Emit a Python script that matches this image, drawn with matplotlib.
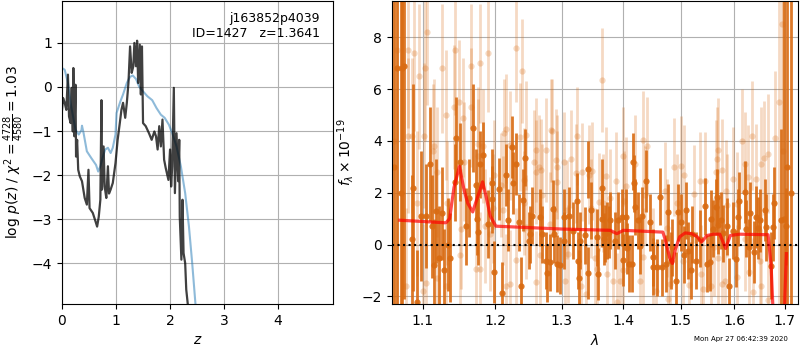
import numpy as np
import matplotlib
matplotlib.use('Agg')
import matplotlib.pyplot as plt
from matplotlib.ticker import NullLocator, FixedLocator, FixedFormatter

# p(z) panel
z_chi = [0.0, 0.05, 0.11, 0.17, 0.25, 0.31, 0.36, 0.37, 0.40, 0.46, 0.54, 0.63, 0.67, 0.71,
         0.75, 0.80, 0.85, 0.90, 0.94, 0.99, 1.01, 1.08, 1.13, 1.20, 1.26, 1.31, 1.37, 1.43,
         1.50, 1.58, 1.67, 1.75, 1.83, 1.90, 1.98, 2.04, 2.12, 2.20, 2.28, 2.35, 2.41, 2.47, 2.60]
logp_chi = [0.43, 0.39, 0.09, -0.44, -0.97, -1.08, -0.98, -0.88, -1.05, -1.46, -1.61, -1.77, -1.92,
            -1.80, -1.61, -1.42, -1.38, -1.50, -1.38, -1.08, -0.59, -0.33, -0.17, 0.09, 0.23, 0.26,
            0.18, 0.0, -0.10, -0.21, -0.30, -0.48, -0.63, -0.70, -0.86, -1.05, -1.35, -1.80, -2.41,
            -3.17, -4.0, -4.92, -6.0]

z_pz = [0.0, 0.02, 0.05, 0.08, 0.11, 0.13, 0.16, 0.18, 0.20, 0.21, 0.23, 0.25, 0.26, 0.28, 0.30,
        0.33, 0.37, 0.42, 0.46, 0.49, 0.51, 0.57, 0.62, 0.65, 0.68, 0.71, 0.73, 0.74, 0.77, 0.79,
        0.82, 0.85, 0.87, 0.90, 0.94, 0.99, 1.03, 1.07, 1.10, 1.13, 1.17, 1.20, 1.23, 1.26, 1.29,
        1.32, 1.34, 1.37, 1.39, 1.41, 1.44, 1.46, 1.48, 1.50, 1.55, 1.61, 1.66, 1.71, 1.74, 1.77,
        1.80, 1.83, 1.86, 1.89, 1.92, 1.97, 2.00, 2.02, 2.04, 2.07, 2.09, 2.12, 2.15, 2.17, 2.18,
        2.21, 2.23, 2.25, 2.28, 2.30, 2.33, 2.40]
logp_pz = [-0.52, -0.25, -0.36, -0.52, 0.28, -0.67, -0.82, -0.02, -1.01, 0.43, -1.12, 0.05, -1.58,
           -1.20, -1.88, -2.03, -2.14, -2.52, -2.67, -1.88, -2.75, -2.86, -3.05, -3.17, -2.95, -2.56,
           -0.30, -2.33, -1.35, -2.26, -2.52, -1.80, -2.42, -2.33, -2.18, -1.73, -1.20, -0.82, -0.52,
           -0.36, -0.70, -0.36, 0.09, 0.92, 0.32, 0.47, 1.00, 0.47, 1.05, 0.09, 0.96, -0.17, 0.92,
           -0.82, -0.89, -1.05, -1.20, -1.01, -1.12, -1.42, -0.89, -1.35, -0.74, -1.65, -1.84, -2.11,
           -1.42, -2.26, -1.80, -0.02, -2.41, -1.05, -2.14, -1.20, -2.95, -3.92, -2.56, -3.77, -4.0,
           -4.6, -4.95, -6.0]

# spectrum panel, dark points
wave_a = [1.062, 1.066, 1.071, 1.073, 1.076, 1.086, 1.087, 1.093, 1.098, 1.104,
          1.109, 1.112, 1.115, 1.117, 1.121, 1.126, 1.128, 1.134, 1.136, 1.143,
          1.145, 1.150, 1.158, 1.163, 1.168, 1.172, 1.174, 1.176, 1.178, 1.183,
          1.190, 1.195, 1.196, 1.199, 1.206, 1.210, 1.215, 1.219, 1.224, 1.226,
          1.231, 1.235, 1.238, 1.241, 1.244, 1.250, 1.251, 1.254, 1.267, 1.269,
          1.276, 1.277, 1.282, 1.287, 1.288, 1.293, 1.298, 1.303, 1.304, 1.312,
          1.318, 1.324, 1.326, 1.327, 1.329, 1.337, 1.341, 1.342, 1.346, 1.356,
          1.358, 1.364, 1.365, 1.367, 1.369, 1.372, 1.376, 1.378, 1.386, 1.391,
          1.397, 1.400, 1.404, 1.406, 1.410, 1.414, 1.416, 1.418, 1.419, 1.425,
          1.428, 1.432, 1.439, 1.445, 1.450, 1.451, 1.457, 1.463, 1.466, 1.474,
          1.477, 1.483, 1.484, 1.492, 1.495, 1.501, 1.505, 1.510, 1.513, 1.519,
          1.521, 1.528, 1.535, 1.544, 1.548, 1.553, 1.556, 1.559, 1.565, 1.567,
          1.568, 1.575, 1.579, 1.585, 1.589, 1.597, 1.602, 1.606, 1.608, 1.620,
          1.623, 1.629, 1.630, 1.639, 1.642, 1.645, 1.649, 1.659, 1.662, 1.672,
          1.675, 1.678, 1.692, 1.699, 1.703, 1.705, 1.712]
flux_a = [3.0, 6.8, 2.0, 6.8, 6.9, 0.2, 2.2, -2.2, 1.1, 1.1,
          3.1, 0.7, -0.8, 1.3, -0.5, 1.2, -1.0, 0.0, -0.5, 2.4,
          4.1, 3.2, 0.7, 1.8, 4.5, 2.3, 1.0, 0.5, 3.1, 3.45,
          0.8, 2.37, 1.75, -1.07, 2.15, -1.87, 2.7, 0.95, 3.77, 2.37,
          3.1, 0.86, -1.59, 1.73, 3.35, 0.15, 0.4, 1.12, 1.06, 0.4,
          -0.62, -1.1, -0.68, 1.38, 0.4, -0.75, -0.8, 0.15, 1.06, 1.12,
          0.54, 1.68, -0.62, -1.3, 0.15, 0.35, -1.1, 2.9, 1.32, 0.28,
          -1.14, 2.19, 1.0, 0.2, 0.41, 0.54, 0.5, 0.93, 0.15, 0.93,
          1.06, -0.6, 1.06, -0.15, -0.75, -0.75, 3.19, 2.37, 1.45, 0.93,
          -0.05, 1.12, 2.45, 0.86, -0.49, -0.85, -0.88, 1.85, -0.88, -0.75,
          1.25, -0.62, -0.1, -1.39, 1.25, 0.86, -0.4, 1.32, -0.23, -1.0,
          0.4, -0.62, 0.22, 1.47, -0.75, -0.68, 1.0, 0.61, 1.45, 1.83,
          0.75, 0.93, 0.44, 0.7, -1.61, 0.54, -0.55, 1.06, 1.7, 2.03,
          0.61, -0.1, 1.2, -0.3, 1.06, 0.65, 0.93, 1.32, 0.67, -0.81,
          0.67, 1.6, 0.95, 1.0, 0.7, 3.0, 2.0]
err_a = [12, 14, 12, 10, 9, 2.5, 4.0, 2.0, 2.5, 2.0,
         2.2, 2.0, 1.8, 2.0, 2.0, 1.8, 1.6, 1.8, 1.7, 1.5,
         1.6, 1.5, 1.5, 1.5, 1.7, 1.4, 1.4, 1.3, 1.3, 1.3,
         1.3, 1.3, 1.3, 1.2, 1.2, 1.2, 1.2, 1.2, 1.2, 1.2,
         1.2, 1.1, 1.1, 1.2, 1.1, 1.1, 1.1, 1.1, 1.1, 1.1,
         1.1, 1.1, 1.1, 1.1, 1.1, 1.1, 1.1, 1.1, 1.1, 1.1,
         1.1, 1.1, 1.1, 1.1, 1.1, 1.1, 1.0, 1.1, 1.1, 1.1,
         1.0, 1.1, 1.1, 1.0, 1.1, 1.1, 1.0, 1.1, 1.1, 1.1,
         1.1, 1.0, 1.1, 1.0, 1.1, 1.1, 1.1, 1.1, 1.1, 1.1,
         1.1, 1.1, 1.2, 1.1, 1.1, 1.1, 1.1, 1.1, 1.1, 1.1,
         1.1, 1.1, 1.1, 1.1, 1.1, 1.1, 1.1, 1.1, 1.1, 1.1,
         1.1, 1.1, 1.1, 1.1, 1.1, 1.1, 1.1, 1.1, 1.1, 1.1,
         1.1, 1.1, 1.1, 1.1, 1.1, 1.1, 1.1, 1.1, 1.1, 1.2,
         1.1, 1.1, 1.2, 1.2, 1.2, 1.2, 1.2, 1.2, 1.3, 1.3,
         1.3, 1.4, 3.5, 15, 1.5, 15, 15]

# spectrum panel, faint points
wave_b = [1.063, 1.067, 1.078, 1.080, 1.081, 1.086, 1.089, 1.093, 1.095, 1.100, 1.102, 1.103, 1.104,
          1.105, 1.114, 1.115, 1.119, 1.119, 1.126, 1.131, 1.131, 1.133, 1.142, 1.143, 1.149, 1.150,
          1.152, 1.154, 1.156, 1.166, 1.166, 1.172, 1.176, 1.179, 1.182, 1.190, 1.197, 1.198, 1.208,
          1.213, 1.216, 1.230, 1.231, 1.240, 1.242, 1.243, 1.257, 1.265, 1.267, 1.270, 1.285, 1.292,
          1.293, 1.304, 1.305, 1.309, 1.314, 1.323, 1.324, 1.331, 1.332, 1.339, 1.343, 1.346, 1.348,
          1.353, 1.364, 1.366, 1.371, 1.377, 1.383, 1.388, 1.399, 1.399, 1.405, 1.420, 1.428, 1.436,
          1.441, 1.456, 1.472, 1.476, 1.478, 1.488, 1.494, 1.500, 1.506, 1.515, 1.524, 1.535, 1.537,
          1.544, 1.555, 1.561, 1.564, 1.566, 1.569, 1.582, 1.583, 1.614, 1.620, 1.620, 1.626, 1.629,
          1.635, 1.636, 1.642, 1.652, 1.652, 1.658, 1.665, 1.665, 1.680, 1.688, 1.695, 1.697,
          1.284, 1.434, 1.568, 1.577, 1.597, 1.585, 1.604, 1.401, 1.359, 1.291,
          1.268, 1.261, 1.245, 1.236, 1.221, 1.261, 1.276, 1.216, 1.175, 1.212,
          1.245, 1.282, 1.310, 1.356, 1.372, 1.394, 1.434, 1.450, 1.480, 1.504,
          1.541, 1.577, 1.604, 1.649, 1.178, 1.221, 1.261, 1.389, 1.185, 1.192]
flux_b = [4.0, 7.5, -1.6, 7.5, 4.2, 4.2, 7.4, 1.6, 6.5, -1.8, 4.2, 6.8, -1.5,
          8.2, 3.6, 3.8, 2.8, -1.3, 6.8, 5.0, -1.6, 1.6, 5.3, 7.5, 5.5, -0.4,
          0.6, 4.9, 3.2, 6.9, 5.3, -0.95, 3.4, 7.0, 3.8, 7.4, 1.4, 2.7, 2.3,
          4.3, -1.6, 7.6, -0.6, 6.7, 1.6, 2.5, 3.2, 3.0, -0.4, 1.9, 4.4, 3.0,
          2.4, 3.2, -1.4, 1.35, 3.3, 2.75, 4.2, -1.6, 2.8, -1.9, 2.7, 1.4, 2.85,
          -0.5, 6.35, 1.6, 2.65, 1.8, -1.4, 2.45, 3.4, -1.0, 2.25, 3.1, -1.4, 1.9,
          3.8, -1.8, 2.05, 0.65, -2.1, 3.0, 1.6, 3.05, 2.7, -1.55, 1.95, 2.45, -1.15,
          2.45, -1.6, -0.1, 2.8, 3.3, -0.5, -1.4, 2.05, 4.0, 3.1, 0.2, 2.6, -1.05,
          4.2, -1.85, 2.55, -1.6, 3.1, 3.35, 3.5, -2.15, 4.1, 5.5, 8.5, 3.6,
          4.41, 4.03, 3.66, 2.86, 2.54, 1.51, 1.57, 1.7, 1.64, 3.25,
          2.86, 2.8, 4.22, 4.15, 3.83, 3.64, 3.64, 4.48, 3.9, 1.32,
          0.67, 0.8, -0.36, -0.94, -1.14, -1.39, -0.49, -0.49, -1.52, -0.62,
          -1.72, -1.52, -1.26, -0.62, -0.94, -1.52, -1.46, -2.23, 0.7, 0.41]
err_b = [12, 12, 3.0, 3.0, 3.0, 3.0, 3.0, 2.8, 2.8, 2.6, 2.8, 2.8, 2.7,
         2.8, 2.6, 2.6, 2.5, 2.5, 2.5, 2.5, 2.4, 2.4, 2.4, 2.5, 2.4, 2.3,
         2.3, 2.3, 2.3, 2.4, 2.3, 2.1, 2.2, 2.3, 2.2, 2.3, 2.1, 2.1, 2.0,
         2.1, 2.0, 2.1, 2.0, 2.0, 2.0, 2.0, 2.0, 2.0, 2.0, 2.0, 2.0, 2.0,
         2.0, 1.9, 1.9, 1.9, 1.9, 1.9, 1.9, 1.9, 1.9, 1.9, 1.9, 1.9, 1.9,
         1.9, 2.0, 1.9, 1.9, 1.9, 1.9, 1.9, 1.9, 1.9, 1.9, 1.9, 1.9, 1.9,
         1.9, 1.9, 1.9, 1.9, 1.9, 1.9, 1.9, 1.9, 1.9, 1.9, 1.9, 1.9, 1.9,
         1.9, 1.9, 1.9, 2.0, 2.0, 2.0, 2.0, 2.0, 2.0, 2.0, 2.0, 2.0, 2.0,
         2.1, 2.1, 2.1, 2.2, 2.2, 2.2, 2.3, 2.3, 2.6, 8.0, 5.0, 6.0,
         2.0, 1.9, 2.0, 2.0, 2.0, 2.0, 2.0, 1.9, 1.9, 2.0,
         2.0, 2.0, 2.1, 2.1, 2.1, 2.0, 2.0, 2.1, 2.2, 2.1,
         2.0, 2.0, 1.9, 1.9, 1.9, 1.9, 1.9, 1.9, 1.9, 1.9,
         1.9, 2.0, 2.0, 2.1, 2.2, 2.1, 2.0, 1.9, 2.2, 2.2]

# best-fit model
wave_model = [1.070, 1.131, 1.136, 1.142, 1.1495, 1.156, 1.161, 1.168, 1.172, 1.177, 1.182, 1.187,
              1.193, 1.201, 1.300, 1.378, 1.389, 1.400, 1.468, 1.472, 1.480, 1.485, 1.490, 1.498,
              1.508, 1.520, 1.530, 1.538, 1.548, 1.560, 1.572, 1.583, 1.592, 1.610, 1.666, 1.672,
              1.677, 1.682, 1.695, 1.700, 1.703]
flux_model = [0.94, 0.84, 1.0, 2.2, 3.02, 2.1, 1.6, 1.26, 1.6, 2.0, 2.42, 1.85,
              1.1, 0.71, 0.6, 0.55, 0.42, 0.55, 0.48, 0.2, -0.5, -0.73, -0.2, 0.3,
              0.45, 0.42, 0.3, 0.1, 0.35, 0.4, 0.4, -0.15, 0.35, 0.4, 0.38, -0.8,
              -3.0, -6.0, -6.0, -2.0, -0.35]

xticks = [1.1, 1.2, 1.3, 1.4, 1.5, 1.6, 1.7]

spec_color = '#d96b12'

fig = plt.figure(figsize=(8, 3.5), dpi=100)
ax1 = fig.add_axes([0.0775, 0.131, 0.339, 0.866])
ax2 = fig.add_axes([0.49, 0.131, 0.5075, 0.866])

# left: log p(z)
ax1.plot(z_chi, logp_chi, color='tab:blue', alpha=0.5, lw=1.5)
ax1.plot(z_pz, logp_pz, color='k', alpha=0.75, lw=1.6)
ax1.set_xlim(0, 5.02)
ax1.set_ylim(-4.93, 1.95)
ax1.set_xticks([0, 1, 2, 3, 4])
ax1.set_yticks([-4, -3, -2, -1, 0, 1])
ax1.grid()
ax1.set_xlabel(r'$z$')
ax1.set_ylabel(r'log $p(z)$ / $\chi^2=\frac{4728}{4580}=1.03$')
ax1.text(0.95, 0.965, 'j163852p4039\nID=1427   z=1.3641', ha='right', va='top',
         transform=ax1.transAxes, fontsize=9)

# right: spectrum
ax2.errorbar(wave_b, flux_b, yerr=err_b, marker='o', ms=4.5, linestyle='None',
             color=spec_color, alpha=0.25, elinewidth=2, mec='none')
ax2.errorbar(wave_a, flux_a, yerr=err_a, marker='o', ms=4.5, linestyle='None',
             color=spec_color, alpha=0.9, elinewidth=2, mec='none')
ax2.axhline(0, color='k', linestyle=':', lw=1.5, zorder=5)
ax2.plot(wave_model, flux_model, color='r', alpha=0.7, lw=2.3, zorder=6)

ax2.set_xscale('log')
ax2.set_xlim(1.06, 1.727)
ax2.set_ylim(-2.3, 9.4)
ax2.xaxis.set_major_locator(FixedLocator(xticks))
ax2.xaxis.set_major_formatter(FixedFormatter(['%.1f' % t for t in xticks]))
ax2.xaxis.set_minor_locator(NullLocator())
ax2.set_yticks([-2, 0, 2, 4, 6, 8])
ax2.grid()
ax2.set_axisbelow(True)
ax2.set_xlabel(r'$\lambda$')
ax2.set_ylabel(r'$f_\lambda\times10^{-19}$')

fig.text(0.985, 0.03, 'Mon Apr 27 06:42:39 2020', ha='right', va='center', fontsize=5)

plt.savefig('out.png', dpi=100)
